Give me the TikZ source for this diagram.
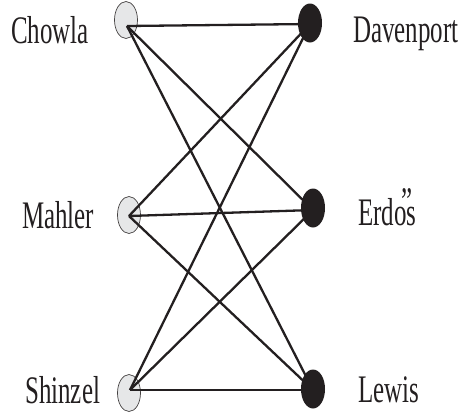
\documentclass[tikz,border=0pt]{standalone}
\usepackage{fontspec}
\usepackage{graphicx}
\setmainfont{Liberation Serif}
\usetikzlibrary{shapes.geometric}
\definecolor{ink}{HTML}{231F20}
\definecolor{pale}{HTML}{E6E7E8}
\newcommand{\cond}[1]{\scalebox{0.64}[1]{#1}}
\begin{document}
\begin{tikzpicture}[x=1pt,y=-1pt,
  lbl/.style={anchor=base west, inner sep=0pt, text=ink, font=\fontsize{39}{39}\selectfont},
  lnode/.style={ellipse, draw=ink!85, line width=0.7pt, fill=pale, inner sep=0pt, minimum width=23pt, minimum height=37pt},
  rnode/.style={ellipse, fill=ink, inner sep=0pt, minimum width=24pt, minimum height=39pt},
  edge/.style={line width=2.3pt, draw=ink}]
\useasboundingbox (0,0) rectangle (461,413);
% left vertices
\node[lnode] (c) at (126,20) {};
\node[lnode] (m) at (129,215) {};
\node[lnode] (s) at (129,393) {};
\coordinate (ch) at (127,26);
\coordinate (mh) at (129,216);
\coordinate (sh) at (130,390);
% right vertex hubs
\coordinate (dh) at (310,24);
\coordinate (eh) at (313,210);
\coordinate (lh) at (313,390);
% edges
\foreach \a in {ch,mh,sh}
  \foreach \b in {dh,eh,lh}
    \draw[edge] (\a) -- (\b);
% right vertices
\node[rnode] (d) at (310,23) {};
\node[rnode] (e) at (313,208) {};
\node[rnode] (l) at (313,389) {};
% labels
\node[lbl] (tc) at (11,43) {\cond{Chowla}};
\node[lbl] (tm) at (22,228) {\cond{Mahler}};
\node[lbl] (ts) at (25,403) {\cond{Shinzel}};
\node[lbl] (td) at (353,42) {\cond{Davenport}};
\node[lbl] (te) at (358,225) {\cond{Erdo\rlap{\kern-0.2em\raisebox{0.26em}{”}}s}};
\node[lbl] (tl) at (358,402) {\cond{Lewis}};
\end{tikzpicture}
\end{document}
